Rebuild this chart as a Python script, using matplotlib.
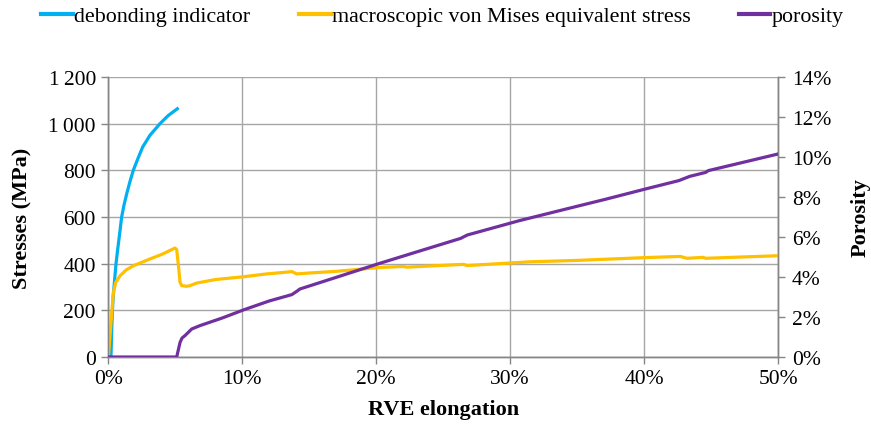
import matplotlib
matplotlib.use("Agg")
import matplotlib.pyplot as plt
from matplotlib.ticker import FuncFormatter, MultipleLocator

plt.rcParams['font.family'] = ['Liberation Serif', 'DejaVu Serif']

# RVE elongation (%) and values
debond_x = [0.19, 0.25, 0.3, 0.36, 0.42, 0.5, 0.57, 0.68, 0.8, 0.99, 1.16, 1.37, 1.6,
            1.86, 2.2, 2.56, 3.1, 3.85, 4.47, 5.15]
debond_y = [0, 120, 200, 260, 300, 355, 400, 455, 510, 600, 650, 700, 750,
            800, 850, 900, 950, 1000, 1035, 1064]

mises_x = [0.0, 0.2, 0.37, 0.55, 0.87, 1.3, 1.86, 3.1, 4.0, 4.97, 5.1, 5.25, 5.35, 5.47,
           5.85, 6.1, 6.6, 8.0, 10.1, 11.8, 13.0, 13.7, 14.06, 15.0, 17.0, 20.1, 22.0,
           22.3, 24.0, 26.5, 26.8, 28.0, 31.5, 35.0, 40.1, 42.7, 43.2, 44.4, 44.6, 47.0, 50.0]
mises_y = [0, 150, 277, 320, 348, 372, 391, 420, 440, 467, 460, 380, 320, 306,
           303, 306, 317, 332, 344, 356, 362, 366, 356, 360, 367, 383, 388,
           385, 390, 397, 392, 396, 408, 414, 426, 431, 423, 427, 423, 428, 434]

poro_x = [0.0, 5.1, 5.35, 5.5, 5.72, 6.22, 6.84, 8.5, 10.07, 12.0, 13.7, 14.1, 14.3, 17.0,
          20.1, 23.0, 26.3, 26.8, 30.7, 34.0, 37.2, 40.1, 42.6, 43.4, 44.6, 44.8, 47.5, 50.0]
poro_y = [0.0, 0.0, 0.73, 0.95, 1.07, 1.4, 1.57, 1.95, 2.35, 2.8, 3.12, 3.3, 3.4, 3.98,
          4.65, 5.25, 5.93, 6.1, 6.82, 7.37, 7.9, 8.4, 8.82, 9.03, 9.23, 9.32, 9.75, 10.15]

labels = ["debonding indicator", "macroscopic von Mises equivalent stress", "porosity"]
colors = ["#00B0F0", "#FFC000", "#7030A0"]

fig = plt.figure(figsize=(8.71, 4.31), dpi=100)
ax = fig.add_axes([108.4 / 871, 1 - 358 / 431, (778 - 108.4) / 871, (358 - 78) / 431])
ax2 = ax.twinx()

grid_c = "#A6A6A6"
axis_c = "#868686"
fs = 15.5
lw = 2.3

l1, = ax.plot(debond_x, debond_y, color=colors[0], lw=lw, label=labels[0], zorder=3,
              solid_joinstyle='round')
l2, = ax.plot(mises_x, mises_y, color=colors[1], lw=lw, label=labels[1], zorder=3,
              solid_joinstyle='round')
l3, = ax2.plot(poro_x, poro_y, color=colors[2], lw=lw, label=labels[2], zorder=3,
               solid_joinstyle='round')

ax.set_xlim(0, 50)
ax.set_ylim(0, 1200)
ax2.set_ylim(0, 14)

ax.xaxis.set_major_locator(MultipleLocator(10))
ax.yaxis.set_major_locator(MultipleLocator(200))
ax2.yaxis.set_major_locator(MultipleLocator(2))

ax.xaxis.set_major_formatter(FuncFormatter(lambda v, p: f"{v:.0f}%"))
ax.yaxis.set_major_formatter(FuncFormatter(lambda v, p: f"{int(v):,}".replace(",", "\u2009")))
ax2.yaxis.set_major_formatter(FuncFormatter(lambda v, p: f"{v:.0f}%"))

ax.grid(True, color=grid_c, lw=1.0)
ax.set_axisbelow(True)

for a in (ax, ax2):
    a.spines['top'].set_visible(False)
    for s in ('left', 'bottom', 'right'):
        a.spines[s].set_color(axis_c)
        a.spines[s].set_linewidth(1.0)
    a.tick_params(colors=axis_c, labelcolor='black', labelsize=fs, length=5, width=1.0)

ax.tick_params(axis='y', pad=4)
ax2.tick_params(axis='y', pad=5)
ax.tick_params(axis='x', pad=4)

ax.set_ylabel("Stresses (MPa)", fontsize=16, fontweight='bold')
ax2.set_ylabel("Porosity", fontsize=16, fontweight='bold')
ax.set_xlabel("RVE elongation", fontsize=16, fontweight='bold')
ax.yaxis.set_label_coords(-0.114, 0.5)
ax2.yaxis.set_label_coords(1.109, 0.5)
ax.xaxis.set_label_coords(0.5, -0.15)

leg = fig.legend(handles=[l1, l2, l3], labels=labels, loc='center',
                 bbox_to_anchor=(0.508, 1 - 17 / 431), ncol=3, frameon=False, fontsize=15.8,
                 handlelength=1.45, handletextpad=0.05, columnspacing=2.2)
for h in leg.legend_handles:
    h.set_linewidth(3.0)

fig.savefig("out.png", dpi=100)
